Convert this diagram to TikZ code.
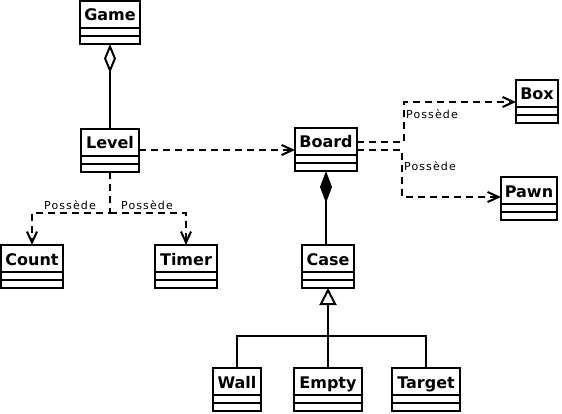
\documentclass[tikz,border=0pt]{standalone}
\usepackage{fontspec}
\setmainfont{DejaVu Sans}
\newfontfamily\lblfont[LetterSpace=10]{DejaVu Sans}
\usetikzlibrary{arrows.meta,positioning}

\tikzset{
  classhead/.style={draw, line width=2pt, outer sep=0pt, inner sep=0pt,
    minimum height=27pt, text height=13pt, text depth=0pt,
    font=\fontsize{16}{16}\selectfont\bfseries},
  classbody/.style={draw, line width=2pt, outer sep=0pt, inner sep=0pt,
    minimum height=16pt,
    path picture={\draw[line width=2pt] (path picture bounding box.west) -- (path picture bounding box.east);}},
  link/.style={line width=2pt},
  dep/.style={line width=2pt, dash pattern=on 7pt off 5pt, -{Straight Barb[length=11pt,width=10pt]}},
  lbl/.style={font=\fontsize{11}{11}\lblfont, inner sep=0pt}
}

\begin{document}
\begin{tikzpicture}[x=1pt,y=-1pt]
\useasboundingbox (0,0) rectangle (562,414);

% classes
\node[classhead, minimum width=60pt] (game) at (110,14.5) {Game};
\node[classbody, minimum width=60pt, below=0pt of game] (game-b) {};
\node[classhead, minimum width=58pt] (level) at (110,142.5) {Level};
\node[classbody, minimum width=58pt, below=0pt of level] (level-b) {};
\node[classhead, minimum width=62pt] (count) at (32,258.5) {Count};
\node[classbody, minimum width=62pt, below=0pt of count] (count-b) {};
\node[classhead, minimum width=62pt] (timer) at (186,258.5) {Timer};
\node[classbody, minimum width=62pt, below=0pt of timer] (timer-b) {};
\node[classhead, minimum width=62pt] (board) at (326,141.5) {Board};
\node[classbody, minimum width=62pt, below=0pt of board] (board-b) {};
\node[classhead, minimum width=42pt] (box) at (537,93.5) {Box};
\node[classbody, minimum width=42pt, below=0pt of box] (box-b) {};
\node[classhead, minimum width=56pt] (pawn) at (529,190.5) {Pawn};
\node[classbody, minimum width=56pt, below=0pt of pawn] (pawn-b) {};
\node[classhead, minimum width=52pt] (case) at (328,258.5) {Case};
\node[classbody, minimum width=52pt, below=0pt of case] (case-b) {};
\node[classhead, minimum width=48pt] (wall) at (237,381.5) {Wall};
\node[classbody, minimum width=48pt, below=0pt of wall] (wall-b) {};
\node[classhead, minimum width=68pt] (empty) at (328,381.5) {Empty};
\node[classbody, minimum width=68pt, below=0pt of empty] (empty-b) {};
\node[classhead, minimum width=68pt] (target) at (426,381.5) {Target};
\node[classbody, minimum width=68pt, below=0pt of target] (target-b) {};

% aggregation and composition
\draw[link, {Diamond[open,length=29pt,width=12pt]}-] (game-b.south) -- (level.north);
\draw[link, {Diamond[length=32pt,width=12pt]}-] (board-b.south) -- (board-b.south |- case.north);

% inheritance
\coordinate (join) at (328,336);
\draw[link, {Triangle[open,length=17pt,width=17pt]}-] (case-b.south) -- (join);
\draw[link] (join) -| (wall.north);
\draw[link] (join) -- (empty.north);
\draw[link] (join) -| (target.north);

% dependencies
\draw[dep] ([yshift=-7.5pt]level.east) -- ([yshift=-8.5pt]board.west);
\coordinate (split) at (110,213);
\draw[dep] (level-b.south) -- (split) -| (count.north);
\draw[dep] (split) -| (timer.north);
\draw[dep] ([yshift=-0.5pt]board.east) -- ++(47,0) |- ([yshift=-8.5pt]box.west);
\draw[dep] ([yshift=-8.5pt]board.east) -- ++(45,0) |- ([yshift=-6.5pt]pawn.west);

% labels
\node[lbl] (l-count) at (70,205) {Possède};
\node[lbl] (l-timer) at (147,205) {Possède};
\node[lbl] (l-box) at (432,114) {Possède};
\node[lbl] (l-pawn) at (430,166) {Possède};

\end{tikzpicture}
\end{document}
